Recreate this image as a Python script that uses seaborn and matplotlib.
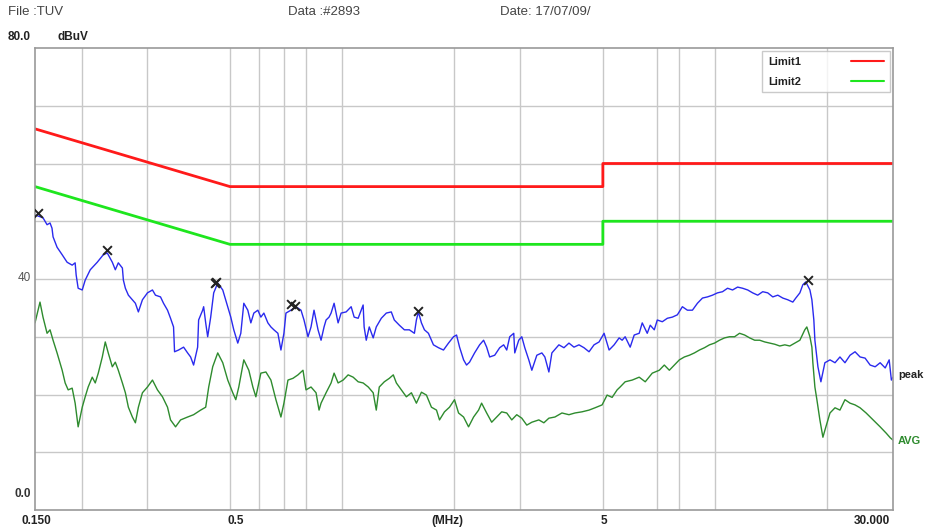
import numpy as np
import pandas as pd
import matplotlib
matplotlib.use("Agg")
import matplotlib.pyplot as plt
import seaborn as sns

# ---------------- data ----------------
limit_freq = [0.15, 0.5, 5.0, 5.0, 30.0]
limit1_db = [66, 56, 56, 60, 60]
limit2_db = [56, 46, 46, 50, 50]

peak_freq = [0.150, 0.1576, 0.1616, 0.1646, 0.1666, 0.1677, 0.1719, 0.1774, 0.1829, 0.1887,
             0.1922, 0.1934, 0.1958, 0.2008, 0.2045, 0.2110, 0.2203, 0.2287, 0.2344, 0.2418,
             0.2463, 0.2509, 0.2573, 0.2589, 0.2621, 0.2670, 0.2737, 0.2788, 0.2840, 0.2912,
             0.3004, 0.3098, 0.3156, 0.3256, 0.3317, 0.3400, 0.3464, 0.3529, 0.3551, 0.3640,
             0.3755, 0.3849, 0.3921, 0.3994, 0.4095, 0.4120, 0.4224, 0.4250, 0.4304, 0.4357,
             0.4439, 0.4522, 0.4636, 0.4782, 0.4932, 0.5025, 0.5119, 0.5247, 0.5346, 0.5446,
             0.5582, 0.5688, 0.5794, 0.5940, 0.6051, 0.6164, 0.6319, 0.6438, 0.6558, 0.6722,
             0.6849, 0.6977, 0.7065, 0.7287, 0.7516, 0.7753, 0.7898, 0.8096, 0.8248, 0.8402,
             0.8613, 0.8775, 0.8939, 0.9051, 0.9220, 0.9336, 0.9511, 0.9749, 0.9933, 1.0245,
             1.0568, 1.0766, 1.1035, 1.1379, 1.145, 1.160, 1.1817, 1.2108, 1.234, 1.273,
             1.313, 1.354, 1.3793, 1.4231, 1.4679, 1.5138, 1.5617, 1.581, 1.6006, 1.631,
             1.6615, 1.7029, 1.7565, 1.8122, 1.8689, 1.9276, 1.9884, 2.026, 2.0639, 2.1159,
             2.155, 2.1953, 2.2646, 2.3359, 2.3943, 2.440, 2.4856, 2.5641, 2.6445, 2.7102,
             2.762, 2.8136, 2.8843, 2.9023, 2.9744, 3.031, 3.0877, 3.1648, 3.225, 3.326,
             3.431, 3.4952, 3.5829, 3.650, 3.8117, 3.9322, 4.0557, 4.1832, 4.3148, 4.4505,
             4.5912, 4.7350, 4.8848, 5.0387, 5.1967, 5.3607, 5.5287, 5.633, 5.7383, 5.9197,
             6.0683, 6.2587, 6.377, 6.577, 6.700, 6.869, 6.998, 7.218, 7.446, 7.680,
             7.922, 8.171, 8.428, 8.694, 8.967, 9.250, 9.541, 9.841, 10.15, 10.47,
             10.80, 11.14, 11.49, 11.85, 12.23, 12.61, 13.01, 13.42, 13.84, 14.28,
             14.73, 15.19, 15.67, 16.16, 16.46, 16.88, 17.19, 17.51, 17.96, 18.18,
             18.40, 18.52, 18.87, 19.22, 19.70, 20.33, 20.97, 21.62, 22.30, 23.01,
             23.73, 24.48, 25.25, 26.05, 26.87, 27.71, 28.59, 29.30, 29.70, 30.0]
peak_db = [51.1, 50.6, 49.4, 49.7, 48.8, 47.3, 45.5, 44.2, 42.9, 42.4,
           42.8, 40.7, 38.4, 38.1, 39.8, 41.6, 42.9, 44.2, 44.5, 42.9,
           41.6, 42.8, 41.9, 39.8, 38.4, 37.2, 36.4, 35.8, 34.3, 36.4,
           37.6, 38.1, 37.2, 36.9, 35.8, 34.6, 33.2, 31.7, 27.4, 27.7,
           28.2, 27.2, 26.5, 25.1, 28.2, 32.9, 34.6, 35.2, 32.4, 30.0,
           33.4, 37.6, 39.3, 38.1, 35.2, 33.4, 31.2, 28.9, 30.6, 35.8,
           34.6, 32.4, 34.1, 34.6, 33.4, 34.1, 32.4, 31.7, 31.2, 30.6,
           27.7, 30.6, 34.1, 34.6, 35.2, 34.6, 32.9, 30.0, 31.7, 34.6,
           31.2, 29.4, 31.7, 32.9, 33.4, 34.1, 35.8, 32.4, 34.1, 34.3,
           35.2, 33.4, 33.2, 35.5, 31.7, 29.4, 31.7, 29.8, 31.7, 33.2,
           34.1, 34.3, 32.9, 32.0, 31.2, 31.2, 30.6, 32.9, 34.3, 32.4,
           31.2, 30.6, 28.6, 28.1, 27.7, 28.9, 30.0, 30.3, 28.2, 26.0,
           25.1, 25.6, 27.2, 28.6, 29.4, 28.2, 26.5, 26.8, 28.1, 28.6,
           27.7, 30.0, 30.6, 27.2, 29.4, 30.0, 28.1, 26.0, 24.2, 26.8,
           27.2, 26.5, 23.9, 27.2, 28.6, 28.1, 28.9, 28.2, 28.6, 28.1,
           27.4, 28.6, 29.1, 30.6, 27.7, 28.6, 29.8, 29.4, 30.0, 28.2,
           30.3, 30.6, 32.4, 30.6, 32.0, 31.2, 32.9, 32.6, 33.2, 33.4,
           33.8, 35.2, 34.6, 34.6, 35.8, 36.7, 36.9, 37.2, 37.6, 37.8,
           38.4, 38.1, 38.6, 38.4, 38.1, 37.6, 37.2, 37.8, 37.6, 36.9,
           37.2, 36.7, 36.4, 36.0, 36.7, 37.6, 39.0, 39.5, 38.1, 36.4,
           32.9, 29.4, 24.8, 22.2, 25.5, 26.0, 25.5, 26.5, 25.5, 26.8,
           27.4, 26.5, 26.3, 25.1, 24.8, 25.5, 24.6, 26.0, 22.5, 23.0]

avg_freq = [0.150, 0.1547, 0.1576, 0.1616, 0.1646, 0.1677, 0.1719, 0.1774, 0.1807, 0.1841,
            0.1887, 0.1922, 0.1958, 0.2008, 0.2045, 0.2083, 0.2136, 0.2176, 0.2217, 0.2273,
            0.2315, 0.2358, 0.2418, 0.2463, 0.2509, 0.2573, 0.2621, 0.2670, 0.2737, 0.2788,
            0.2840, 0.2912, 0.3004, 0.3098, 0.3195, 0.3296, 0.3400, 0.3464, 0.3573, 0.3686,
            0.3849, 0.3994, 0.4172, 0.4304, 0.4385, 0.4494, 0.4636, 0.4782, 0.4932, 0.5087,
            0.5183, 0.5280, 0.5446, 0.5617, 0.5759, 0.5867, 0.6051, 0.6242, 0.6438, 0.6640,
            0.6849, 0.6977, 0.7153, 0.7377, 0.7609, 0.7849, 0.7997, 0.8248, 0.8508, 0.8667,
            0.8775, 0.9051, 0.9336, 0.9511, 0.9749, 1.0056, 1.0372, 1.0699, 1.1035, 1.1379,
            1.1744, 1.2108, 1.234, 1.2571, 1.2968, 1.3376, 1.3708, 1.397, 1.441, 1.486,
            1.533, 1.581, 1.631, 1.682, 1.735, 1.790, 1.8235, 1.8805, 1.9396, 2.0007,
            2.0511, 2.1159, 2.1817, 2.2506, 2.3214, 2.365, 2.440, 2.517, 2.596, 2.677,
            2.762, 2.849, 2.938, 3.031, 3.126, 3.225, 3.3672, 3.4735, 3.5829, 3.7183,
            3.884, 4.0557, 4.2093, 4.396, 4.5912, 4.7644, 4.977, 5.133, 5.295, 5.461,
            5.563, 5.7383, 5.994, 6.2587, 6.4963, 6.785, 7.0848, 7.3075, 7.5383, 7.7752,
            8.0202, 8.2723, 8.5325, 8.8018, 9.0782, 9.3647, 9.6593, 9.963, 10.276, 10.60,
            10.93, 11.28, 11.63, 12.00, 12.38, 12.77, 13.17, 13.59, 14.01, 14.46,
            14.91, 15.38, 15.86, 16.36, 16.88, 17.40, 17.62, 17.96, 18.18, 18.29,
            18.52, 18.75, 19.10, 19.46, 19.82, 20.33, 20.97, 21.62, 22.30, 23.01,
            23.73, 24.48, 25.41, 26.54, 27.71, 28.77, 29.50, 30.0]
avg_db = [32.4, 36.0, 33.4, 30.6, 31.2, 29.4, 27.2, 24.2, 22.0, 20.8,
          21.1, 18.5, 14.4, 17.8, 19.6, 21.3, 23.0, 22.0, 23.7, 26.5,
          29.1, 27.2, 24.8, 25.6, 24.2, 22.0, 20.3, 17.8, 16.1, 15.1,
          17.8, 20.3, 21.3, 22.5, 20.8, 19.6, 17.8, 15.6, 14.4, 15.6,
          16.1, 16.5, 17.3, 17.8, 21.3, 24.8, 27.2, 25.5, 22.5, 20.3,
          19.1, 21.3, 26.0, 24.2, 21.3, 19.6, 23.7, 23.9, 22.5, 19.1,
          16.1, 18.5, 22.5, 22.8, 23.4, 24.2, 20.8, 21.3, 20.3, 17.3,
          18.5, 20.3, 22.0, 23.7, 22.0, 22.5, 23.4, 23.0, 22.2, 22.0,
          21.3, 20.3, 17.3, 21.3, 22.2, 22.8, 23.4, 22.0, 20.8, 19.6,
          20.3, 18.5, 20.4, 19.9, 17.8, 17.3, 15.6, 17.0, 17.8, 19.1,
          16.8, 16.1, 14.4, 16.1, 17.3, 18.5, 16.8, 15.2, 16.1, 17.0,
          16.8, 15.6, 16.5, 15.9, 14.7, 15.2, 15.6, 15.1, 15.9, 16.1,
          16.8, 16.5, 16.8, 17.0, 17.3, 17.7, 18.2, 19.9, 19.5, 20.8,
          21.3, 22.2, 22.5, 23.0, 22.2, 23.7, 24.2, 25.1, 24.2, 25.1,
          26.0, 26.5, 26.8, 27.2, 27.7, 28.1, 28.6, 28.9, 29.4, 29.8,
          30.0, 30.0, 30.6, 30.3, 29.8, 29.4, 29.4, 29.1, 28.9, 28.7,
          28.4, 28.6, 28.4, 28.9, 29.4, 31.2, 31.7, 30.0, 28.2, 25.5,
          21.3, 19.1, 15.6, 12.6, 14.4, 16.8, 17.7, 17.3, 19.1, 18.5,
          18.2, 17.7, 16.8, 15.6, 14.4, 13.3, 12.5, 12.1]

marker_freq = [0.1528, 0.2344, 0.4545, 0.4600, 0.7300, 0.7480, 1.6006, 17.74]
marker_db = [51.4, 45.0, 39.3, 39.5, 35.6, 35.4, 34.5, 39.8]

xgrid_freq = [0.2, 0.3, 0.5, 0.6, 0.7, 0.8, 1, 2, 3, 5, 7, 8, 10, 20]
ygrid_db = [10, 20, 30, 40, 50, 60, 70]

# ---------------- figure ----------------
sns.set_style("white")
plt.rcParams['font.family'] = ['Liberation Sans', 'DejaVu Sans']

fig = plt.figure(figsize=(9.33, 5.29), dpi=100)
ax = fig.add_axes([35 / 933, 1 - 510 / 529, (893 - 35) / 933, (510 - 48) / 529])

grid_c = "#c8c8c8"
for f in xgrid_freq:
    ax.axvline(f, color=grid_c, lw=1.0, zorder=0)
for d in ygrid_db:
    ax.axhline(d, color=grid_c, lw=1.0, zorder=0)

lim_df = pd.DataFrame({"freq": limit_freq, "Limit1": limit1_db, "Limit2": limit2_db})
sns.lineplot(data=lim_df, x="freq", y="Limit1", ax=ax, color="#ff1a1a", lw=2.0,
             sort=False, estimator=None, label="Limit1")
sns.lineplot(data=lim_df, x="freq", y="Limit2", ax=ax, color="#1ee61e", lw=2.0,
             sort=False, estimator=None, label="Limit2")

peak_df = pd.DataFrame({"freq": peak_freq, "dB": peak_db})
avg_df = pd.DataFrame({"freq": avg_freq, "dB": avg_db})
sns.lineplot(data=peak_df, x="freq", y="dB", ax=ax, color="#2a2aee", lw=1.0,
             sort=False, estimator=None, legend=False)
sns.lineplot(data=avg_df, x="freq", y="dB", ax=ax, color="#2e8b2e", lw=1.0,
             sort=False, estimator=None, legend=False)

mk_df = pd.DataFrame({"freq": marker_freq, "dB": marker_db})
sns.scatterplot(data=mk_df, x="freq", y="dB", ax=ax, marker="x", color="#222222",
                s=40, linewidth=1.4, zorder=5, legend=False)

ax.set_xscale("log")
ax.set_xlim(0.15, 30)
ax.set_ylim(0, 80)
ax.set_xticks([])
ax.set_yticks([])
ax.minorticks_off()
ax.set_xlabel("")
ax.set_ylabel("")
for s in ax.spines.values():
    s.set_color("#9a9a9a")
    s.set_linewidth(1.2)

leg = ax.legend(loc="upper right", markerfirst=False, frameon=True, fancybox=False,
                fontsize=8, handlelength=3.0, borderaxespad=0.3, labelspacing=0.9,
                handletextpad=4.5, borderpad=0.5)
leg.get_frame().set_edgecolor("#bdbdbd")
leg.get_frame().set_linewidth(1.0)
for t in leg.get_texts():
    t.set_fontweight("bold")
    t.set_color("#222222")
for h in leg.get_lines():
    h.set_linewidth(1.5)

# ---------------- texts ----------------
txt_c = "#444444"
fig.text(8 / 933, 1 - 12 / 529, "File :TUV", fontsize=9.5, color=txt_c, va="center")
fig.text(288 / 933, 1 - 12 / 529, "Data :#2893", fontsize=9.5, color=txt_c, va="center")
fig.text(500 / 933, 1 - 12 / 529, "Date: 17/07/09/", fontsize=9.5, color=txt_c, va="center")
fig.text(8 / 933, 1 - 37 / 529, "80.0", fontsize=8.5, color="#222222", va="center",
         fontweight="bold")
fig.text(58 / 933, 1 - 37 / 529, "dBuV", fontsize=8.5, color="#222222", va="center",
         fontweight="bold")
fig.text(31 / 933, 1 - 278 / 529, "40", fontsize=8.5, color="#555555", va="center",
         ha="right")
fig.text(31 / 933, 1 - 494 / 529, "0.0", fontsize=8.5, color="#333333", va="center",
         ha="right", fontweight="bold")

lab_y = 1 - 521 / 529
fig.text(22 / 933, lab_y, "0.150", fontsize=8.5, color="#222222", va="center",
         fontweight="bold")
fig.text(236 / 933, lab_y, "0.5", fontsize=8.5, color="#222222", va="center",
         ha="center", fontweight="bold")
fig.text(447 / 933, lab_y, "(MHz)", fontsize=8.5, color="#222222", va="center",
         ha="center", fontweight="bold")
fig.text(604 / 933, lab_y, "5", fontsize=8.5, color="#222222", va="center",
         ha="center", fontweight="bold")
fig.text(872 / 933, lab_y, "30.000", fontsize=8.5, color="#222222", va="center",
         ha="center", fontweight="bold")

fig.text(898 / 933, 1 - 375 / 529, "peak", fontsize=8, color="#222222", va="center",
         fontweight="bold")
fig.text(898 / 933, 1 - 441 / 529, "AVG", fontsize=8, color="#2e8b2e", va="center",
         fontweight="bold")

fig.savefig("out.png", dpi=100)
